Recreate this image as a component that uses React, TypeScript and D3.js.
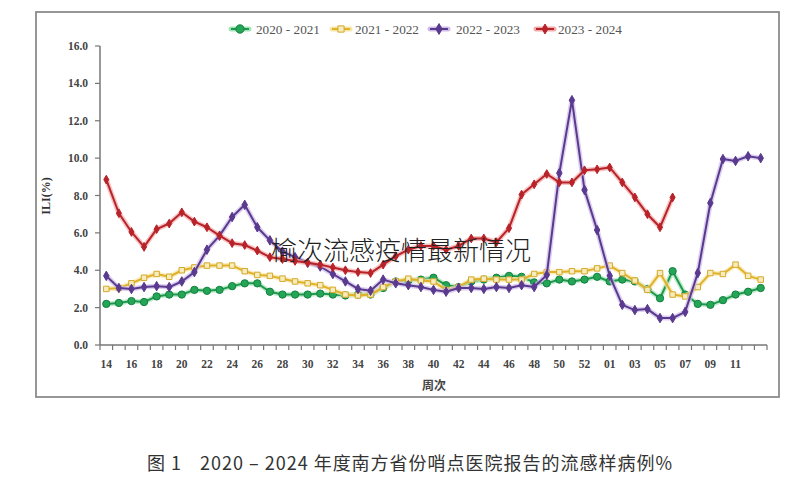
import React from "react";
import * as d3 from "d3";

const weeks: string[] = [
  "14","15","16","17","18","19","20","21","22","23","24","25","26","27","28","29","30","31","32","33",
  "34","35","36","37","38","39","40","41","42","43","44","45","46","47","48","49","50","51","52","53",
  "01","02","03","04","05","06","07","08","09","10","11","12","13",
];

const s2020: number[] = [
  2.2, 2.25, 2.35, 2.3, 2.6, 2.7, 2.7, 2.95, 2.9, 2.95, 3.15, 3.3, 3.3, 2.85, 2.7, 2.7, 2.7, 2.75, 2.7, 2.65,
  2.7, 2.7, 3.05, 3.4, 3.45, 3.5, 3.6, 3.2, 3.1, 3.4, 3.5, 3.6, 3.7, 3.65, 3.35, 3.3, 3.5, 3.4, 3.5, 3.65,
  3.4, 3.5, 3.4, 3.0, 2.5, 3.95, 2.7, 2.2, 2.15, 2.4, 2.7, 2.85, 3.05,
];
const s2021: number[] = [
  3.0, 3.05, 3.3, 3.6, 3.8, 3.65, 4.0, 4.15, 4.25, 4.25, 4.25, 3.95, 3.75, 3.7, 3.55, 3.4, 3.3, 3.2, 2.95, 2.7,
  2.65, 2.7, 3.1, 3.4, 3.55, 3.45, 3.4, 2.95, 3.1, 3.5, 3.55, 3.5, 3.5, 3.5, 3.8, 3.9, 3.9, 3.95, 3.95, 4.1,
  4.25, 3.85, 3.45, 2.95, 3.85, 2.7, 2.6, 3.1, 3.85, 3.8, 4.3, 3.7, 3.5,
];
const s2022: number[] = [
  3.7, 3.05, 3.0, 3.1, 3.15, 3.1, 3.4, 3.9, 5.1, 5.85, 6.85, 7.5, 6.3, 5.6, 5.0, 4.7, 4.4, 4.2, 3.8, 3.4,
  3.0, 2.9, 3.5, 3.3, 3.2, 3.1, 2.95, 2.85, 3.05, 3.05, 3.0, 3.1, 3.05, 3.2, 3.1, 3.75, 9.2, 13.1, 8.3, 6.15,
  3.7, 2.15, 1.87, 1.92, 1.44, 1.44, 1.77, 3.85, 7.6, 9.95, 9.85, 10.1, 10.0,
];
const s2023: number[] = [
  8.85, 7.05, 6.05, 5.25, 6.2, 6.5, 7.1, 6.6, 6.3, 5.85, 5.45, 5.35, 5.05, 4.7, 4.6, 4.5, 4.4, 4.3, 4.15, 4.0,
  3.9, 3.85, 4.3, 4.75, 5.1, 5.3, 5.3, 5.1, 5.3, 5.7, 5.7, 5.5, 6.25, 8.05, 8.6, 9.15, 8.7, 8.7, 9.35, 9.4,
  9.5, 8.7, 7.9, 7.0, 6.3, 7.9,
];

const seriesNames: string[] = ["2020 - 2021", "2021 - 2022", "2022 - 2023", "2023 - 2024"];
const yTicks: number[] = [0, 2, 4, 6, 8, 10, 12, 14, 16];

const styles = [
  { color: "#1f9a4c", halo: "#a6e3bb", fill: "#25a556", shape: d3.symbolCircle, size: 42, markStroke: "#138040" },
  { color: "#e0b22a", halo: "#f6e6a6", fill: "#f7ecbd", shape: d3.symbolSquare, size: 30, markStroke: "#d4a82a" },
  { color: "#5a3a8e", halo: "#cdbbe8", fill: "#5a3a8e", shape: d3.symbolDiamond, size: 26, markStroke: "#5a3a8e" },
  { color: "#b8232a", halo: "#f2aaaa", fill: "#b8232a", shape: d3.symbolDiamond, size: 22, markStroke: "#b8232a" },
];

export default function App() {
  const W = 801, H = 490;
  const x = d3.scaleBand<string>().domain(weeks).range([100, 767]).padding(0);
  const y = d3.scaleLinear().domain([0, 16]).range([345, 46]);
  const bw = x.bandwidth();
  const cx = (i: number) => (x(weeks[i]) as number) + bw / 2;
  const line = d3.line<number>().x((_, i) => cx(i)).y((v) => y(v));
  const data = [s2020, s2021, s2022, s2023];
  const serif = "'Liberation Serif', 'DejaVu Serif', serif";
  const cjk = "'Noto Sans CJK SC', sans-serif";

  const legendX = [231, 332, 430, 536];
  const legendTextX = [256, 355, 456, 558];

  return (
    <svg width={W} height={H} style={{ position: "absolute", left: 0, top: 0, background: "#fff" }}>
      <rect x={0} y={0} width={W} height={H} fill="#fff" />
      <rect x={36} y={12} width={743} height={385} fill="#fff" stroke="#8c8c8c" strokeWidth={1.8} />

      {/* legend */}
      {seriesNames.map((n, k) => {
        const st = styles[k];
        const lx = legendX[k];
        return (
          <g key={n}>
            <line x1={lx} x2={lx + 18} y1={29} y2={29} stroke={st.halo} strokeWidth={5} strokeLinecap="round" />
            <line x1={lx} x2={lx + 18} y1={29} y2={29} stroke={st.color} strokeWidth={2} />
            <path
              d={d3.symbol().type(st.shape).size(st.size * 1.3)() as string}
              transform={`translate(${lx + 9},29)`}
              fill={st.fill}
              stroke={st.markStroke}
              strokeWidth={1}
            />
            <text x={legendTextX[k]} y={33.5} fontFamily={serif} fontSize={13} fill="#555" textLength={64} lengthAdjust="spacingAndGlyphs">{n}</text>
          </g>
        );
      })}

      {/* y axis */}
      <line x1={100} x2={100} y1={46} y2={345} stroke="#777" strokeWidth={1.5} />
      {yTicks.map((t) => (
        <g key={t}>
          <line x1={95} x2={100} y1={y(t)} y2={y(t)} stroke="#777" strokeWidth={1.2} />
          <text x={88} y={y(t) + 4} textAnchor="end" fontFamily={serif} fontWeight="bold" fontSize={11.5} fill="#444">
            {t.toFixed(1)}
          </text>
        </g>
      ))}
      <text
        transform={`translate(50,196) rotate(-90)`}
        textAnchor="middle"
        fontFamily={serif}
        fontWeight="bold"
        fontSize={12}
        fill="#333"
      >
        ILI(%)
      </text>

      {/* x axis */}
      <line x1={100} x2={767} y1={345} y2={345} stroke="#777" strokeWidth={1.5} />
      {weeks.map((w) => (
        <line key={"t" + w} x1={x(w) as number} x2={x(w) as number} y1={345} y2={350} stroke="#777" strokeWidth={1.2} />
      ))}
      <line x1={767} x2={767} y1={345} y2={350} stroke="#777" strokeWidth={1.2} />
      {weeks.map((w, i) =>
        i % 2 === 0 && i < weeks.length - 1 ? (
          <text key={"l" + w} x={cx(i)} y={368} textAnchor="middle" fontFamily={serif} fontWeight="bold" fontSize={11.5} fill="#444">
            {w}
          </text>
        ) : null
      )}
      <text x={434} y={390} textAnchor="middle" fontFamily={cjk} fontWeight="bold" fontSize={12} fill="#444">
        周次
      </text>

      {/* series */}
      {data.map((s, k) => {
        const st = styles[k];
        return (
          <g key={"s" + k}>
            <path d={line(s) as string} fill="none" stroke={st.halo} strokeWidth={5} strokeLinejoin="round" opacity={0.7} />
            <path d={line(s) as string} fill="none" stroke={st.color} strokeWidth={2} strokeLinejoin="round" />
            {s.map((v, i) => (
              <path
                key={i}
                d={d3.symbol().type(st.shape).size(st.size)() as string}
                transform={`translate(${cx(i)},${y(v)})`}
                fill={st.fill}
                stroke={st.markStroke}
                strokeWidth={1}
              />
            ))}
          </g>
        );
      })}

      {/* watermark */}
      <text x={271} y={260} fontFamily={cjk} fontWeight={300} fontSize={26} fill="#222">
        榆次流感疫情最新情况
      </text>

      {/* caption */}
      <text x={147} y={470} fontFamily={cjk} fontSize={18} fill="#333" textLength={34} lengthAdjust="spacing">
        图 1
      </text>
      <text x={200} y={470} fontFamily={cjk} fontSize={18} fill="#333" textLength={472} lengthAdjust="spacing">
        2020 – 2024 年度南方省份哨点医院报告的流感样病例%
      </text>
    </svg>
  );
}
